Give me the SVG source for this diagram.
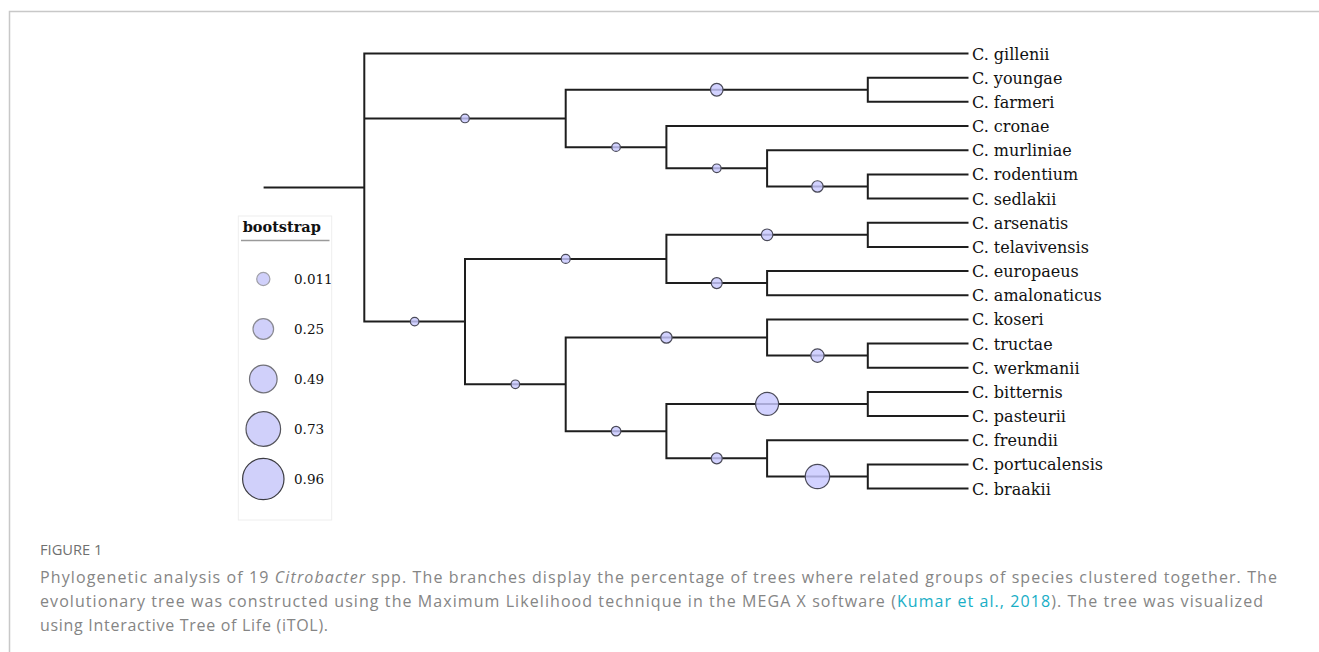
<svg xmlns="http://www.w3.org/2000/svg" width="1319" height="652" viewBox="0 0 1319 652">
<style>
.br{fill:none;stroke:#1e1e1e;stroke-width:2;stroke-linejoin:miter;stroke-linecap:butt}
.bub{fill:#c8c8ff;fill-opacity:.82;stroke:#4a4a58;stroke-width:1.2}
.tip{font-family:"DejaVu Serif","Liberation Serif",serif;font-size:16px;fill:#111}
.lg{font-family:"DejaVu Serif","Liberation Serif",serif;font-size:13.5px;fill:#111}
.cap{font-family:"Open Sans",Lato,sans-serif;font-size:16px;fill:#858585}
</style>
<rect width="1319" height="652" fill="#fff"/>
<path d="M9.5 652 V11.5 H1319" fill="none" stroke="#c8c8c8" stroke-width="1.5"/>

<g id="connectors" class="br">
<path d="M263.6 187.55 H364.3"/>
<path d="M968.5 53.5 H364.3 V321.6 H465"/>
<path d="M364.3 118.45 H565.7"/>
<path d="M867.8 89.75 H565.7 V147.15 H666.4"/>
<path d="M968.5 77.7 H867.8 V101.8 H968.5"/>
<path d="M968.5 126 H666.4 V168.3 H767.1"/>
<path d="M968.5 150.2 H767.1 V186.45 H867.8"/>
<path d="M968.5 174.4 H867.8 V198.5 H968.5"/>
<path d="M666.4 258.95 H465 V384.3 H565.7"/>
<path d="M867.8 234.8 H666.4 V283.1 H767.1"/>
<path d="M968.5 222.7 H867.8 V246.9 H968.5"/>
<path d="M968.5 271 H767.1 V295.2 H968.5"/>
<path d="M767.1 337.5 H565.7 V431.15 H666.4"/>
<path d="M968.5 319.4 H767.1 V355.6 H867.8"/>
<path d="M968.5 343.5 H867.8 V367.7 H968.5"/>
<path d="M867.8 403.95 H666.4 V458.35 H767.1"/>
<path d="M968.5 391.9 H867.8 V416 H968.5"/>
<path d="M968.5 440.2 H767.1 V476.5 H867.8"/>
<path d="M968.5 464.4 H867.8 V488.6 H968.5"/>
</g>

<g id="bootstrap-nodes">
<g id="n-A"><circle class="bub" cx="465" cy="118.45" r="4.3"/></g>
<g id="n-youngae-farmeri"><circle class="bub" cx="716.75" cy="89.75" r="6.3"/></g>
<g id="n-cronae-clade"><circle class="bub" cx="616.05" cy="147.15" r="4.3"/></g>
<g id="n-murliniae-clade"><circle class="bub" cx="716.75" cy="168.3" r="4.3"/></g>
<g id="n-rodentium-sedlakii"><circle class="bub" cx="817.45" cy="186.45" r="5.7"/></g>
<g id="n-B"><circle class="bub" cx="414.65" cy="321.6" r="4.3"/></g>
<g id="n-B1"><circle class="bub" cx="565.7" cy="258.95" r="4.5"/></g>
<g id="n-arsenatis-telavivensis"><circle class="bub" cx="767.1" cy="234.8" r="5.8"/></g>
<g id="n-europaeus-amalonaticus"><circle class="bub" cx="716.75" cy="283.1" r="5.5"/></g>
<g id="n-B2"><circle class="bub" cx="515.35" cy="384.3" r="4.3"/></g>
<g id="n-koseri-clade"><circle class="bub" cx="666.4" cy="337.5" r="5.7"/></g>
<g id="n-tructae-werkmanii"><circle class="bub" cx="817.45" cy="355.6" r="6.7"/></g>
<g id="n-freundii-group"><circle class="bub" cx="616.05" cy="431.15" r="4.8"/></g>
<g id="n-bitternis-pasteurii"><circle class="bub" cx="767.1" cy="403.95" r="11.5"/></g>
<g id="n-freundii-clade"><circle class="bub" cx="716.75" cy="458.35" r="5.5"/></g>
<g id="n-portucalensis-braakii"><circle class="bub" cx="817.45" cy="476.5" r="12.2"/></g>
</g>

<g id="tips" class="tip">
<g id="t-gillenii"><text x="972" y="59.5">C. gillenii</text></g>
<g id="t-youngae"><text x="972" y="83.7">C. youngae</text></g>
<g id="t-farmeri"><text x="972" y="107.8">C. farmeri</text></g>
<g id="t-cronae"><text x="972" y="132">C. cronae</text></g>
<g id="t-murliniae"><text x="972" y="156.2">C. murliniae</text></g>
<g id="t-rodentium"><text x="972" y="180.4">C. rodentium</text></g>
<g id="t-sedlakii"><text x="972" y="204.5">C. sedlakii</text></g>
<g id="t-arsenatis"><text x="972" y="228.7">C. arsenatis</text></g>
<g id="t-telavivensis"><text x="972" y="252.9">C. telavivensis</text></g>
<g id="t-europaeus"><text x="972" y="277">C. europaeus</text></g>
<g id="t-amalonaticus"><text x="972" y="301.2">C. amalonaticus</text></g>
<g id="t-koseri"><text x="972" y="325.4">C. koseri</text></g>
<g id="t-tructae"><text x="972" y="349.5">C. tructae</text></g>
<g id="t-werkmanii"><text x="972" y="373.7">C. werkmanii</text></g>
<g id="t-bitternis"><text x="972" y="397.9">C. bitternis</text></g>
<g id="t-pasteurii"><text x="972" y="422">C. pasteurii</text></g>
<g id="t-freundii"><text x="972" y="446.2">C. freundii</text></g>
<g id="t-portucalensis"><text x="972" y="470.4">C. portucalensis</text></g>
<g id="t-braakii"><text x="972" y="494.6">C. braakii</text></g>
</g>

<g id="legend">
<rect x="238.3" y="216" width="93.4" height="304" fill="#fff" stroke="#eeeeee" stroke-width="1"/>
<text x="242.7" y="232.3" font-family="DejaVu Serif, Liberation Serif, serif" font-weight="bold" font-size="14.5" fill="#111">bootstrap</text>
<line x1="241" y1="240.5" x2="329.5" y2="240.5" stroke="#9a9a9a" stroke-width="1.5"/>
<circle cx="263.3" cy="279" r="6.6" fill="#d0d0fa" stroke="#a0a0a8" stroke-width="1.2"/>
<circle cx="263.3" cy="329" r="10.3" fill="#d0d0fa" stroke="#8a8a92" stroke-width="1.2"/>
<circle cx="263.3" cy="379" r="13.8" fill="#d0d0fa" stroke="#707078" stroke-width="1.2"/>
<circle cx="263.3" cy="429" r="17.3" fill="#d0d0fa" stroke="#55555c" stroke-width="1.2"/>
<circle cx="263.3" cy="479" r="20.7" fill="#d0d0fa" stroke="#3c3c42" stroke-width="1.2"/>
<text class="lg" x="294" y="283.5">0.011</text>
<text class="lg" x="294" y="333.5">0.25</text>
<text class="lg" x="294" y="383.5">0.49</text>
<text class="lg" x="294" y="433.5">0.73</text>
<text class="lg" x="294" y="483.5">0.96</text>
</g>

<g id="caption">
<text x="40" y="555" font-family="Open Sans, Lato, sans-serif" font-size="14" fill="#707070" textLength="62.5" lengthAdjust="spacingAndGlyphs">FIGURE 1</text>
<text class="cap" x="40" y="583" textLength="1237" lengthAdjust="spacing">Phylogenetic analysis of 19 <tspan font-style="italic">Citrobacter</tspan> spp. The branches display the percentage of trees where related groups of species clustered together. The</text>
<text class="cap" x="40" y="607" textLength="1223" lengthAdjust="spacing">evolutionary tree was constructed using the Maximum Likelihood technique in the MEGA X software (<tspan fill="#19aec6">Kumar et al., 2018</tspan>). The tree was visualized</text>
<text class="cap" x="40" y="631" textLength="288" lengthAdjust="spacing">using Interactive Tree of Life (iTOL).</text>
</g>
</svg>
